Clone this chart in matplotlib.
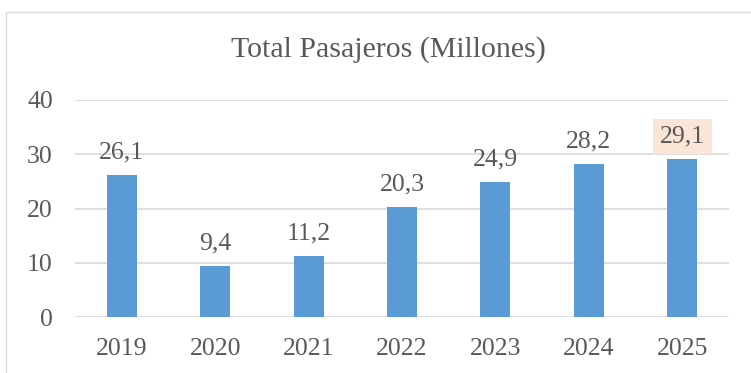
#!/usr/bin/env python

import matplotlib
matplotlib.use("Agg")
import matplotlib.pyplot as plt
from matplotlib.patches import Rectangle

# Data
years = ["2019", "2020", "2021", "2022", "2023", "2024", "2025"]
pasajeros = [26.1, 9.4, 11.2, 20.3, 24.9, 28.2, 29.1]
y_ticks = [0, 10, 20, 30, 40]

TEXT = "#595959"
BAR = "#5B9BD5"
GRID = "#D9D9D9"
HIGHLIGHT = "#FBE5D6"

plt.rcParams["font.family"] = ["Liberation Serif", "DejaVu Serif"]

fig = plt.figure(figsize=(7.51, 3.73), dpi=100)

# outer chart frame (runs off the right and bottom edges)
fig.patches.append(Rectangle((6 / 751, -0.1), 1.0, (373 - 12) / 373 + 0.1,
                             transform=fig.transFigure, fill=False,
                             edgecolor=GRID, linewidth=1.0))

ax = fig.add_axes([75 / 751, 56 / 373, 654 / 751, 217 / 373])

x = range(len(years))
bars = ax.bar(x, pasajeros, width=0.32, color=BAR, zorder=2)

ax.set_xlim(-0.5, len(years) - 0.5)
ax.set_ylim(0, 40)
ax.set_yticks(y_ticks)
ax.set_xticks(list(x))
ax.set_xticklabels(years)
ax.yaxis.grid(True, color=GRID, linewidth=1.2, zorder=0)
ax.set_axisbelow(True)
for side in ax.spines.values():
    side.set_visible(False)
ax.tick_params(axis="both", length=0, labelsize=18.5, labelcolor=TEXT)
ax.tick_params(axis="y", pad=16)
ax.tick_params(axis="x", pad=15)

# value labels, comma as decimal separator
for i, v in enumerate(pasajeros):
    label = "{:.1f}".format(v).replace(".", ",")
    kw = {}
    if i == len(pasajeros) - 1:
        kw["bbox"] = dict(boxstyle="square,pad=0.27", facecolor=HIGHLIGHT,
                          edgecolor="none")
    ax.annotate(label, (i, v), xytext=(0, 12), textcoords="offset points",
                ha="center", va="baseline", fontsize=18.5, color=TEXT,
                annotation_clip=False, **kw)

fig.text(388 / 751, 1 - 50 / 373, "Total Pasajeros (Millones)", ha="center",
         va="center", fontsize=21.5, color=TEXT)

fig.savefig("out.png", dpi=100)
plt.close(fig)
